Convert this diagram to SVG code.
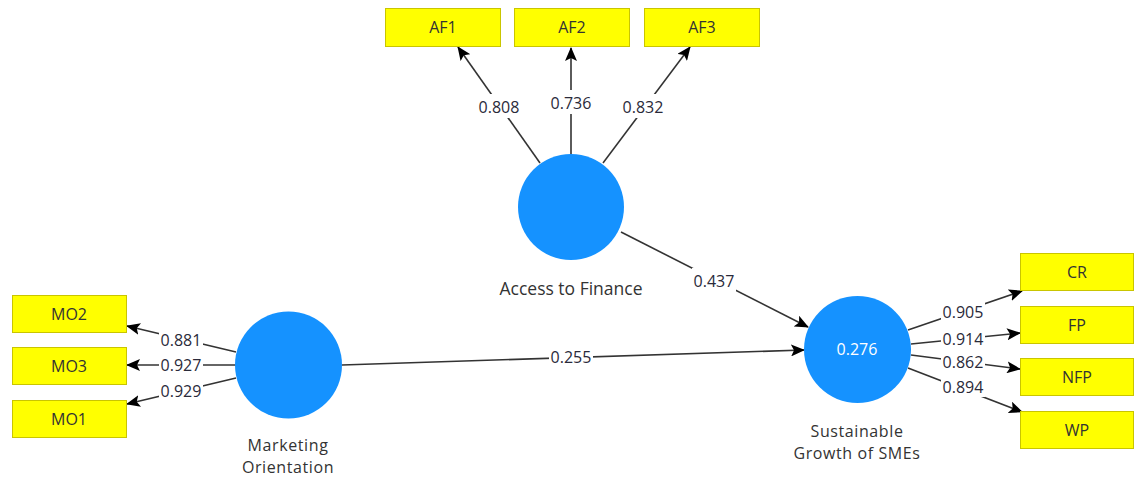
<svg xmlns="http://www.w3.org/2000/svg" width="1135" height="480" viewBox="0 0 1135 480">
<defs>
<marker id="arr" markerUnits="userSpaceOnUse" markerWidth="14" markerHeight="12" viewBox="0 0 14 12" refX="13" refY="6" orient="auto">
<path d="M0,0 L14,6 L0,12 L3,6 Z" fill="#000"/>
</marker>
<style>
.bg{fill:#fff}
.box rect{fill:#ffff00;stroke:#c9c500;stroke-width:1}
.box text{font-family:"Open Sans","Noto Sans",sans-serif;font-size:16px;fill:#333;text-anchor:middle}
.lv circle{fill:#1592ff}
.lv text{font-family:"Open Sans","Noto Sans",sans-serif;font-size:17.5px;fill:#333;text-anchor:middle}
.lv text.two{font-size:16px;letter-spacing:0.6px}
.edge line{stroke:#333;stroke-width:1.6;marker-end:url(#arr)}
.lbl rect{fill:#fff}
.lbl text{font-family:"Open Sans","Noto Sans",sans-serif;font-size:16px;fill:#2a2a3a;text-anchor:middle}
</style>
</defs>
<rect class="bg" width="1135" height="480"/>
<g id="connectors">
<g class="edge">
<line x1="540" y1="163" x2="458" y2="47"/>
<line x1="571" y1="154" x2="571" y2="48"/>
<line x1="603" y1="163" x2="690" y2="47"/>
<line x1="621" y1="232" x2="808" y2="327"/>
<line x1="342" y1="365" x2="804" y2="350"/>
<line x1="236" y1="352" x2="127" y2="326"/>
<line x1="236" y1="365" x2="127" y2="365"/>
<line x1="236" y1="378" x2="127" y2="404"/>
<line x1="908" y1="330" x2="1022" y2="291"/>
<line x1="911" y1="344" x2="1020" y2="333"/>
<line x1="911" y1="355" x2="1020" y2="369"/>
<line x1="908" y1="368" x2="1022" y2="412"/>
</g>
<g class="lbl">
<rect x="477" y="94" width="44" height="24"/><text x="499" y="113">0.808</text>
<rect x="549" y="90" width="44" height="24"/><text x="571" y="109">0.736</text>
<rect x="621" y="94" width="44" height="24"/><text x="643" y="113">0.832</text>
<rect x="692" y="268" width="44" height="24"/><text x="714" y="287">0.437</text>
<rect x="549" y="346" width="44" height="22"/><text x="571" y="363">0.255</text>
<rect x="159" y="330" width="44" height="20"/><text x="181" y="346">0.881</text>
<rect x="159" y="356" width="44" height="18"/><text x="181" y="371">0.927</text>
<rect x="159" y="381" width="44" height="20"/><text x="181" y="397">0.929</text>
<rect x="941" y="302" width="44" height="20"/><text x="963" y="318">0.905</text>
<rect x="941" y="329" width="44" height="20"/><text x="963" y="345">0.914</text>
<rect x="941" y="352" width="44" height="20"/><text x="963" y="368">0.862</text>
<rect x="941" y="377" width="44" height="20"/><text x="963" y="393">0.894</text>
</g>
</g>
<g id="AF1" class="box"><rect x="385.5" y="8.5" width="115" height="38"/><text x="443" y="33">AF1</text></g>
<g id="AF2" class="box"><rect x="514.5" y="8.5" width="115" height="38"/><text x="572" y="33">AF2</text></g>
<g id="AF3" class="box"><rect x="644.5" y="8.5" width="115" height="38"/><text x="702" y="33">AF3</text></g>
<g id="MO2" class="box"><rect x="12.5" y="295.5" width="114" height="37"/><text x="69" y="320">MO2</text></g>
<g id="MO3" class="box"><rect x="12.5" y="347.5" width="114" height="37"/><text x="69" y="372">MO3</text></g>
<g id="MO1" class="box"><rect x="12.5" y="400.5" width="114" height="37"/><text x="69" y="425">MO1</text></g>
<g id="CR" class="box"><rect x="1020.5" y="253.5" width="113" height="37"/><text x="1077" y="278">CR</text></g>
<g id="FP" class="box"><rect x="1020.5" y="306.5" width="113" height="37"/><text x="1077" y="331">FP</text></g>
<g id="NFP" class="box"><rect x="1020.5" y="358.5" width="113" height="37"/><text x="1077" y="383">NFP</text></g>
<g id="WP" class="box"><rect x="1020.5" y="411.5" width="113" height="37"/><text x="1077" y="436">WP</text></g>
<g id="AccessToFinance" class="lv"><circle cx="571" cy="207" r="53"/><text x="571" y="295">Access to Finance</text></g>
<g id="MarketingOrientation" class="lv"><circle cx="288.5" cy="365" r="53.5"/><text class="two" x="288" y="451">Marketing</text><text class="two" x="288" y="473">Orientation</text></g>
<g id="SustainableGrowth" class="lv"><circle cx="857.5" cy="349.5" r="53.5"/><text x="857" y="355" style="fill:#fff;font-size:16px">0.276</text><text class="two" x="857" y="437">Sustainable</text><text class="two" x="857" y="459">Growth of SMEs</text></g>
</svg>
